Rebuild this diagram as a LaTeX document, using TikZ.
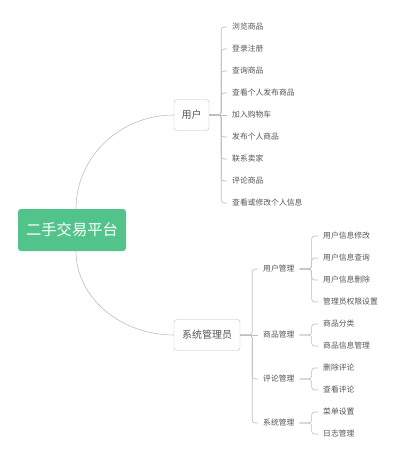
\documentclass[tikz,border=0pt]{standalone}
\usepackage{fontspec}
\setmainfont{Noto Sans CJK SC}
\usetikzlibrary{positioning}
\definecolor{rootgreen}{HTML}{52C48B}
\definecolor{linegray}{HTML}{BDBDBD}
\definecolor{textgray}{HTML}{555555}

\begin{document}
\begin{tikzpicture}[x=1pt, y=-1pt,
	rootbox/.style={fill=rootgreen, text=white, rounded corners=3pt, minimum width=108pt, minimum height=42pt, inner sep=0pt, font=\fontsize{15.3}{16}\selectfont},
	mainbox/.style={draw=linegray, fill=white, rounded corners=3pt, minimum height=31pt, inner sep=0pt, text=textgray, font=\fontsize{10}{11}\selectfont},
	leaf/.style={anchor=west, inner xsep=5pt, inner ysep=1pt, text=textgray, font=\fontsize{7.8}{8}\selectfont},
	link/.style={draw=linegray, line width=0.6pt},
	brace/.style={link, rounded corners=3pt}]
	\useasboundingbox (0,0) rectangle (403,461);

	% Root and the two main branches
	\node [rootbox] (root) at (72,230) {二手交易平台};
	\node [mainbox, minimum width=35pt] (user) at (191.5,115) {用户};
	\node [mainbox, minimum width=66pt] (admin) at (207,335) {系统管理员};

	\draw [link] ([xshift=4pt]root.north) .. controls (76,157) and (120,115) .. (user.west);
	\draw [link] ([xshift=4pt]root.south) .. controls (76,297) and (120,335) .. (admin.west);

	% Functions of the user
	\node [leaf] (u1) at (227,27) {浏览商品};
	\node [leaf] (u2) at (227,49) {登录注册};
	\node [leaf] (u3) at (227,71) {查询商品};
	\node [leaf] (u4) at (227,93) {查看个人发布商品};
	\node [leaf] (u5) at (227,115) {加入购物车};
	\node [leaf] (u6) at (227,137) {发布个人商品};
	\node [leaf] (u7) at (227,159) {联系卖家};
	\node [leaf] (u8) at (227,181) {评论商品};
	\node [leaf] (u9) at (227,203) {查看或修改个人信息};

	\draw [brace] (user.east) -- ++(12,0) |- (u1.west);
	\draw [brace] (user.east) -- ++(12,0) |- (u2.west);
	\draw [brace] (user.east) -- ++(12,0) |- (u3.west);
	\draw [brace] (user.east) -- ++(12,0) |- (u4.west);
	\draw [brace] (user.east) -- (u5.west);
	\draw [brace] (user.east) -- ++(12,0) |- (u6.west);
	\draw [brace] (user.east) -- ++(12,0) |- (u7.west);
	\draw [brace] (user.east) -- ++(12,0) |- (u8.west);
	\draw [brace] (user.east) -- ++(12,0) |- (u9.west);

	% Management parts of the administrator
	\node [leaf] (m1) at (258,269) {用户管理};
	\node [leaf] (m2) at (258,335) {商品管理};
	\node [leaf] (m3) at (258,379) {评论管理};
	\node [leaf] (m4) at (258,423) {系统管理};

	\draw [brace] (admin.east) -- ++(12,0) |- (m1.west);
	\draw [brace] (admin.east) -- (m2.west);
	\draw [brace] (admin.east) -- ++(12,0) |- (m3.west);
	\draw [brace] (admin.east) -- ++(12,0) |- (m4.west);

	% User management
	\node [leaf] (m11) at (318,236) {用户信息修改};
	\node [leaf] (m12) at (318,258) {用户信息查询};
	\node [leaf] (m13) at (318,280) {用户信息删除};
	\node [leaf] (m14) at (318,302) {管理员权限设置};
	\draw [brace] (m1.east) -- ++(12,0) |- (m11.west);
	\draw [brace] (m1.east) -- ++(12,0) |- (m12.west);
	\draw [brace] (m1.east) -- ++(12,0) |- (m13.west);
	\draw [brace] (m1.east) -- ++(12,0) |- (m14.west);

	% Goods management
	\node [leaf] (m21) at (318,324) {商品分类};
	\node [leaf] (m22) at (318,346) {商品信息管理};
	\draw [brace] (m2.east) -- ++(12,0) |- (m21.west);
	\draw [brace] (m2.east) -- ++(12,0) |- (m22.west);

	% Comment management
	\node [leaf] (m31) at (318,368) {删除评论};
	\node [leaf] (m32) at (318,390) {查看评论};
	\draw [brace] (m3.east) -- ++(12,0) |- (m31.west);
	\draw [brace] (m3.east) -- ++(12,0) |- (m32.west);

	% System management
	\node [leaf] (m41) at (318,412) {菜单设置};
	\node [leaf] (m42) at (318,434) {日志管理};
	\draw [brace] (m4.east) -- ++(12,0) |- (m41.west);
	\draw [brace] (m4.east) -- ++(12,0) |- (m42.west);
\end{tikzpicture}
\end{document}
